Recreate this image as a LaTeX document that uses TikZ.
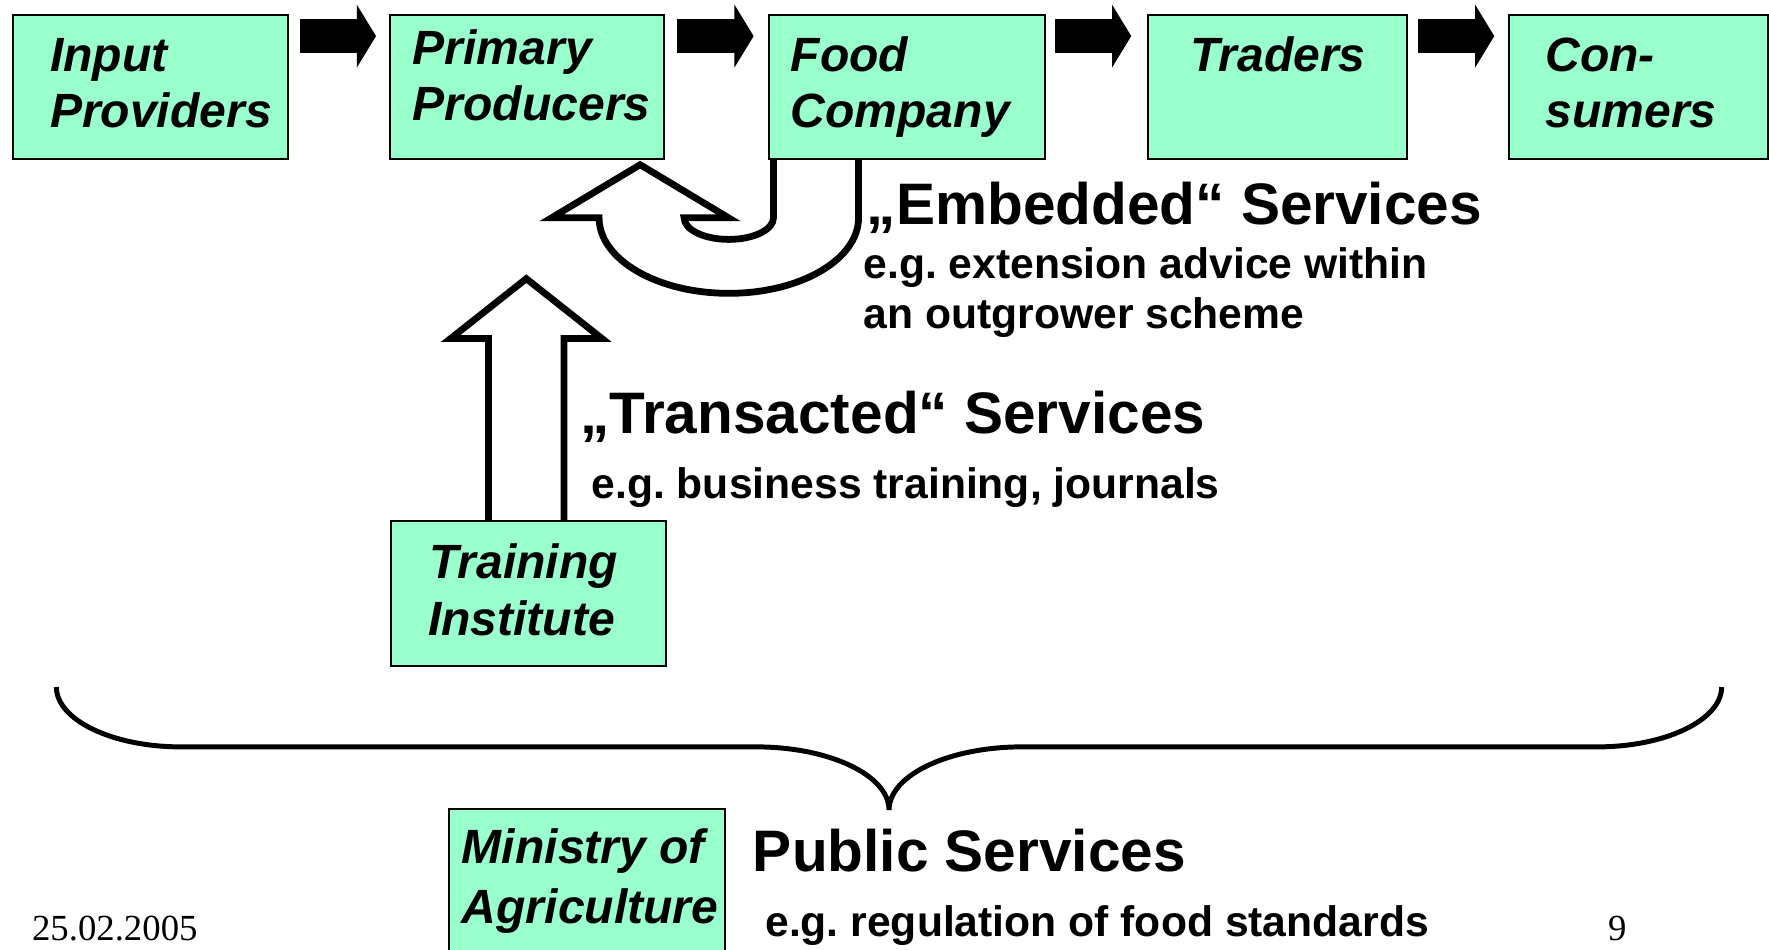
\documentclass[tikz,border=0pt]{standalone}
\usepackage{fontspec}
\setmainfont{Liberation Sans}
\newfontfamily\datefont{Liberation Serif}
\usetikzlibrary{arrows.meta,calc}
\definecolor{mint}{HTML}{99FFCC}
\frenchspacing
\begin{document}
\frenchspacing
\begin{tikzpicture}[x=0.5pt,y=-0.5pt,
  box/.style={draw=black, line width=0.9pt, fill=mint, inner sep=0pt, anchor=north west, minimum height=64pt},
  boxtxt/.style={anchor=base west, inner sep=0pt, font=\fontsize{21.3}{25}\selectfont\bfseries\itshape},
  headtxt/.style={anchor=base west, inner sep=0pt, font=\fontsize{25.95}{30}\selectfont\bfseries},
  subtxt/.style={anchor=base west, inner sep=0pt, font=\fontsize{18.9}{22}\selectfont\bfseries},
  datetxt/.style={anchor=base west, inner sep=0pt, text depth=0pt, font=\fontsize{16.3}{19}\datefont},
  flow/.style={line width=15pt, -{Triangle[length=8.5pt,width=27.5pt]}},
  hollow/.style={draw=black, line width=3pt, line join=miter, miter limit=10},
]
\useasboundingbox[fill=white] (0,0) rectangle (1568,841.2);

% boxes
\node[box, minimum width=121.5pt] (ip) at (11,12) {};
\node[box, minimum width=121.5pt] (pp) at (344.5,12) {};
\node[box, minimum width=122pt] (fc) at (681,12) {};
\node[box, minimum width=114.8pt] (tr) at (1016.4,12) {};
\node[box, minimum width=114.5pt] (cs) at (1337,12) {};
\node[box, minimum width=121.5pt] (ti) at (346,461) {};
\node[box, minimum width=122.2pt, minimum height=75pt] (ma) at (397,716) {};

% box texts
\node[boxtxt] (ip1) at (44,63) {Input};
\node[boxtxt] (ip2) at (44,113) {Providers};
\node[boxtxt] (pp1) at (365.5,57.6) {Primary};
\node[boxtxt] (pp2) at (365.5,107) {Producers};
\node[boxtxt] (fc1) at (700.5,63) {Food};
\node[boxtxt] (fc2) at (700.5,113) {Company};
\node[boxtxt] (tr1) at (1054.5,63) {Traders};
\node[boxtxt] (cs1) at (1369.5,63) {Con-};
\node[boxtxt] (cs2) at (1369.5,113) {sumers};
\node[boxtxt] (ti1) at (380,512.6) {Training};
\node[boxtxt] (ti2) at (379,563) {Institute};
\node[boxtxt] (ma1) at (409,765.3) {Ministry of};
\node[boxtxt] (ma2) at (409,818.5) {Agriculture};

% flow arrows
\coordinate (a1s) at (266,32); \coordinate (a1e) at (333.3,32);
\coordinate (a2s) at (600,32); \coordinate (a2e) at (668,32);
\coordinate (a3s) at (935,32); \coordinate (a3e) at (1002.7,32);
\coordinate (a4s) at (1257,32); \coordinate (a4e) at (1324.5,32);
\draw[flow] (a1s) -- (a1e);
\draw[flow] (a2s) -- (a2e);
\draw[flow] (a3s) -- (a3e);
\draw[flow] (a4s) -- (a4e);

% embedded services U-turn arrow
\coordinate (uin) at ($(fc.south west)+(4.6,0)$);
\coordinate (uout) at ($(fc.south west)+(80,0)$);
\draw[hollow] (uin) -- (685.6,193) .. controls (685.6,203.6) and (667.9,212.2) .. (646,212.2)
  .. controls (624.1,212.2) and (606.4,203.6) .. (606.4,193) -- (645.7,193) -- (567.4,146)
  -- (489,193) -- (531,193) .. controls (531,230) and (582.5,260) .. (646,260)
  .. controls (709.5,260) and (761,230) .. (761,193) -- (uout);

% transacted services up arrow
\coordinate (upL) at ($(ti.north west)+(87,0)$);
\coordinate (upR) at ($(ti.north west)+(154,0)$);
\draw[hollow] (upL) -- (433,300) -- (399.5,300) -- (466.5,247) -- (533.5,300) -- (500,300) -- (upR);

% labels
\node[headtxt] (emb) at (768,198.6) {„Embedded“ Services};
\node[subtxt] (emb1) at (765,247) {e.g. extension advice within};
\node[subtxt] (emb2) at (765,291) {an outgrower scheme};
\node[headtxt] (tra) at (514,384) {„Transacted“ Services};
\node[subtxt] (tra1) at (524,441.6) {e.g. business training, journals};
\node[headtxt] (pub) at (667,772.8) {Public Services};
\node[subtxt] (pub1) at (678,829.8) {e.g. regulation of food standards};

% brace
\draw[line width=2.2pt] (50,609) .. controls (50,638) and (99.5,662) .. (160,662) -- (670,662)
  .. controls (735,662) and (788,687) .. (788,718) .. controls (788,687) and (841,662) .. (906,662)
  -- (1416,662) .. controls (1476.5,662) and (1526,638) .. (1526,609);

% footer
\node[datetxt] (date) at (28,834) {25.02.2005};
\node[datetxt] (page) at (1425,834) {9};
\end{tikzpicture}
\end{document}
